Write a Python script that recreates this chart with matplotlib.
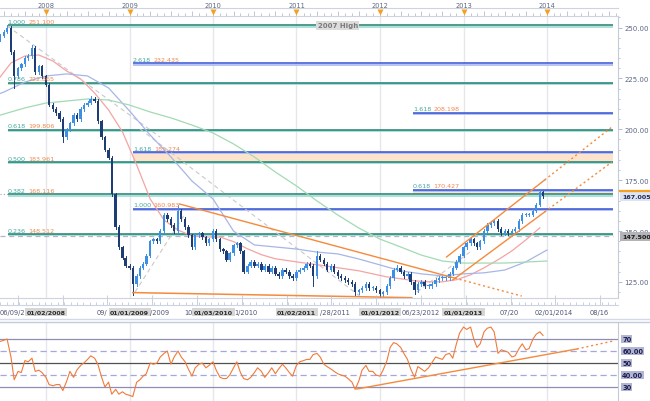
import pandas as pd
import matplotlib
matplotlib.use("Agg")
import matplotlib.pyplot as plt
import matplotlib.dates as mdates
import matplotlib.transforms as mtransforms
from matplotlib.lines import Line2D
from matplotlib.ticker import MultipleLocator

plt.rcParams["font.family"] = ["DejaVu Sans"]

W, H = 650, 402

# semi-monthly closes (1st / 15th), Jun 2007 - Dec 2013
close = [
    244, 246, 248, 250, 238, 226, 230, 232, 235, 236, 240, 228, 231, 226,
    222, 212, 210, 208, 205, 196, 200, 203, 207, 205, 210, 212, 213, 215, 214, 204, 196, 190, 186, 168, 152, 142, 137, 133,
    132, 124, 128, 132, 134, 138, 145, 146, 145, 150, 158, 156, 153, 150, 160, 156, 152, 148, 142, 148, 149, 147, 144, 146,
    150, 146, 141, 140, 136, 139, 143, 144, 140, 130, 133, 135, 133, 134, 131, 133, 130, 132, 129, 128, 131, 130, 128, 127,
    130, 131, 132, 134, 133, 128, 138, 136, 134, 131, 133, 130, 128, 127, 126, 125, 124, 120, 121, 122, 124, 122, 122, 121,
    119, 120, 123, 127, 131, 132, 130, 128, 129, 125, 121, 124, 125, 123, 123, 124, 126, 127, 127, 127, 129, 132, 135, 138,
    142, 144, 146, 144, 142, 145, 150, 153, 154, 155, 151, 149, 150, 149, 150, 151, 155, 158, 158, 158, 160, 163, 169, 167,
]
first_open = 242.0

# wick extremes that stand out
spike_dates = ["2007-07-15", "2007-08-15", "2007-11-01", "2008-03-15", "2008-07-15", "2009-01-15",
               "2009-08-01", "2011-03-15", "2011-04-01", "2011-09-15", "2012-01-01", "2012-03-15",
               "2012-06-01", "2013-12-01"]
spike_values = [251.1, 220.5, 241.5, 194.0, 216.5, 118.8, 163.0, 123.0, 140.0, 118.5, 117.5, 133.5, 119.0, 170.0]

# RSI, same semi-monthly dates
rsi = [
    68, 68, 69, 70, 55, 36, 43, 42, 52, 51, 54, 43, 44, 42,
    38, 32, 31, 32, 32, 27, 35, 43, 38, 44, 48, 50, 53, 56, 54, 49, 38, 30, 34, 24, 28, 24, 26, 24,
    23, 22, 34, 36, 39, 41, 50, 49, 50, 55, 58, 60, 49, 55, 60, 55, 51, 45, 39, 46, 49, 50, 46, 48,
    51, 44, 38, 37, 37, 40, 46, 51, 42, 37, 36, 38, 42, 46, 43, 38, 42, 46, 41, 45, 49, 46, 42, 39,
    48, 51, 52, 53, 53, 57, 58, 55, 49, 47, 45, 43, 41, 40, 39, 37, 34, 28, 35, 44, 48, 43, 43, 40,
    39, 44, 52, 63, 67, 66, 63, 58, 53, 45, 38, 47, 45, 43, 46, 50, 55, 54, 53, 57, 58, 54, 66, 75,
    80, 78, 80, 70, 63, 66, 76, 79, 80, 76, 58, 61, 60, 59, 55, 56, 62, 66, 61, 62, 70, 74, 76, 73,
]

# moving averages
red_ma = [223.7, 232.6, 236.0, 236.5, 233.5, 228.6, 224.7, 217.8, 209.5, 198.7, 182.5, 165.8, 155.4,
          150.5, 147.6, 147.1, 147.1, 144.8, 141.3, 138.4, 136.4, 135.4, 134.4, 133.5, 132.5, 131.5,
          130.5, 129.0, 127.5, 126.6, 125.6, 125.1, 125.1, 126.1, 128.5, 132.0, 135.9, 140.3, 145.7, 151.6]
blue_ma = [214.4, 218.3, 223.2, 226.2, 227.2, 226.2, 220.3, 209.0, 197.2, 186.4, 174.6, 165.8, 150.0, 143.2,
           142.2, 141.2, 139.7, 138.8, 136.3, 133.4, 130.5, 129.0, 128.0, 129.0, 129.5, 130.9, 134.9, 140.7]
green_ma = [204.6, 207.5, 210.5, 212.9, 213.9, 214.9, 214.4, 211.9, 208.5, 205.6, 202.1, 198.2, 192.8, 186.4,
            179.0, 172.2, 164.8, 157.9, 151.5, 146.1, 142.2, 138.2, 135.3, 134.3, 134.3, 134.3, 134.8, 135.3]

# Fibonacci retracement (from the 2007 high) and extensions
fib_ratios = ["1.000", "0.786", "0.618", "0.500", "0.382", "0.236"]
fib_levels = [251.100, 222.865, 199.806, 183.961, 168.116, 148.512]
ext1_ratios = ["2.618", "1.618", "1.000"]
ext1_levels = [232.435, 185.274, 160.983]
ext1_drawn = [232.435, 188.9, 160.983]   # where the lines sit on the picture
ext2_ratios = ["1.618", "0.618"]
ext2_levels = [208.198, 170.427]

current_price = 167.005
marker_level = 147.5

# trend lines
support_dates = ["2009-01-15", "2012-05-20"]
support_vals = [119.8, 117.3]
down_dates = ["2009-08-08", "2012-11-24", "2013-09-13"]
down_vals = [163.3, 126.9, 118.1]
chan_up_dates = ["2012-10-19", "2013-12-22", "2014-10-12"]
chan_up_vals = [137.3, 175.1, 201.1]
chan_lo_dates = ["2012-11-15", "2013-12-22", "2014-10-12"]
chan_lo_vals = [126.0, 159.4, 183.9]
gray_lines = [
    (["2007-07-17", "2009-05-14"], [250.7, 196.2]),
    (["2009-02-16", "2011-10-05"], [200.1, 118.1]),
    (["2009-01-25", "2009-08-31"], [120.1, 158.4]),
    (["2012-06-11", "2013-01-29"], [120.1, 139.7]),
]
rsi_tl_dates = ["2011-09-22", "2014-05-12", "2014-10-16"]
rsi_tl_vals = [28.3, 61.7, 68.3]

price_ticks = [125, 150, 175, 200, 225, 250]
rsi_levels = [70, 60, 50, 40, 30]
rsi_labels = ["70", "60.00", "50", "40.00", "30"]
year_labels = ["2008", "2009", "2010", "2011", "2012", "2013", "2014"]
box_dates = ["01/02/2008", "01/01/2009", "01/03/2010", "01/02/2011", "01/01/2012", "01/01/2013"]
plain_dates = ["06/09/2", "09/", "/2009", "10", "1/2010", "/28/2011", "06/23/2012", "07/20", "02/01/2014", "08/16"]
plain_px = [0, 97, 150, 184, 234, 320, 402, 500, 535, 590]

TEAL, TEAL_LT = "#1f7f72", "#a3ded6"
BLUE, BLUE_LT = "#3352d6", "#b0bdf0"
RATIO_C, PRICE_C = "#46a89c", "#f0884c"
ORANGE = "#f68a3c"
AXIS_TXT = "#5c6684"


def d(s):
    return mdates.date2num(pd.Timestamp(s))


def fbox(x0, y0, x1, y1):
    return [x0 / W, 1 - y1 / H, (x1 - x0) / W, (y1 - y0) / H]


fig = plt.figure(figsize=(W / 100, H / 100), dpi=100)
ax = fig.add_axes(fbox(0, 17, 618, 299))
ax_top = fig.add_axes(fbox(0, 9, 618, 17))
ax_bot = fig.add_axes(fbox(0, 299, 618, 306))
ax_rsi = fig.add_axes(fbox(0, 323, 618, 402))

xlim = (d("2007-06-14"), d("2014-11-08"))
line_end = d("2014-10-15")
for a in (ax, ax_top, ax_bot, ax_rsi):
    a.set_xlim(*xlim)
ax.set_ylim(117.14, 255.65)
ax_rsi.set_ylim(18.3, 84.2)

years = [d(f"{y}-01-01") for y in year_labels]
for yx in years:
    ax.axvline(yx, color="#e6e7ec", lw=1, zorder=0.5)
    ax_rsi.axvline(yx, color="#e6e7ec", lw=1, zorder=0.5)

# ---- levels ----
light_off = mtransforms.offset_copy(ax.transData, fig=fig, x=0, y=-1.3, units="dots")


def level_line(x0, level, dark, light):
    ax.plot([x0, line_end], [level, level], color=light, lw=1.3, transform=light_off,
            zorder=2, solid_capstyle="butt")
    ax.plot([x0, line_end], [level, level], color=dark, lw=1.1, zorder=2.1, solid_capstyle="butt")


def level_label(x0, level, ratio, price):
    t = ax.annotate(ratio, xy=(x0, level), xytext=(0, 0.9), textcoords="offset points",
                    fontsize=4.6, color=RATIO_C, ha="left", va="bottom", zorder=7)
    ax.annotate(price, xy=(1, 0), xycoords=t, xytext=(2, 0), textcoords="offset points",
                fontsize=4.6, color=PRICE_C, ha="left", va="bottom", zorder=7)


peak = d("2007-07-17")
low_start = d("2009-01-15")
ext2_start = d("2012-05-24")

ax.fill_between([low_start, line_end], fib_levels[3], ext1_drawn[1], color="#fde3cc", lw=0, zorder=1)
ax.fill_between([ext2_start, line_end], fib_levels[4], ext2_levels[1], color="#fde3cc", lw=0, zorder=1)

for r, lv in zip(fib_ratios, fib_levels):
    level_line(peak, lv, TEAL, TEAL_LT)
    level_label(peak, lv, r, f"{lv:.3f}")
for r, lv, yd in zip(ext1_ratios, ext1_levels, ext1_drawn):
    level_line(low_start, yd, BLUE, BLUE_LT)
    level_label(low_start, yd, r, f"{lv:.3f}")
for r, lv in zip(ext2_ratios, ext2_levels):
    level_line(ext2_start, lv, BLUE, BLUE_LT)
    level_label(ext2_start, lv, r, f"{lv:.3f}")

ax.plot([xlim[0], peak], [fib_levels[4]] * 2, color="#a0a0b0", lw=0.8, ls=(0, (1, 2)), zorder=2)
ax.plot([xlim[0], line_end], [marker_level] * 2, color="#b4b4c2", lw=0.9, ls=(0, (4, 3)), zorder=2)

ax.text(d("2011-07-01"), fib_levels[0], "2007 High", ha="center", va="center", fontsize=5,
        weight="bold", color="#7a7a7a", zorder=7,
        bbox=dict(boxstyle="square,pad=0.2", fc="#dcdcdc", ec="none"))

# ---- moving averages / gray guides ----
for xs_, ys_ in gray_lines:
    ax.plot([d(s) for s in xs_], ys_, color="#c9c9cc", lw=0.8, ls=(0, (4, 3)), zorder=2.5)

ax.plot(pd.date_range("2007-06-01", periods=len(red_ma), freq="2MS"), red_ma,
        color="#f4a4a4", lw=0.9, zorder=3)
ax.plot(pd.date_range("2007-04-01", periods=len(blue_ma), freq="QS"), blue_ma,
        color="#a7b6e6", lw=0.9, zorder=3)
ax.plot(pd.date_range("2007-04-01", periods=len(green_ma), freq="QS"), green_ma,
        color="#a3dab4", lw=0.9, zorder=3)

# ---- candles ----
dates = pd.date_range("2007-06-01", periods=len(close), freq="SMS")
xs = mdates.date2num(dates)
opens = [first_open] + close[:-1]
spikes = dict(zip([d(s) for s in spike_dates], spike_values))
for xi, o, c in zip(xs, opens, close):
    up = c >= o
    col = "#3d8fe6" if up else "#1f3d75"
    lo, hi = min(o, c) - 0.8, max(o, c) + 0.8
    if xi in spikes:
        if spikes[xi] > hi:
            hi = spikes[xi]
        else:
            lo = min(lo, spikes[xi])
    ax.plot([xi, xi], [lo, hi], color=col, lw=0.7, zorder=4)
    h = c - o if abs(c - o) > 0.5 else 0.5
    ax.bar(xi, h, bottom=o, width=11, color=col, lw=0, zorder=4.1)

# ---- orange trend lines ----
ax.plot([d(s) for s in support_dates], support_vals, color=ORANGE, lw=1.1, zorder=5)
for ds, vs in ((down_dates, down_vals), (chan_up_dates, chan_up_vals), (chan_lo_dates, chan_lo_vals)):
    px = [d(s) for s in ds]
    ax.plot(px[:2], vs[:2], color=ORANGE, lw=1.0, zorder=5)
    ax.plot(px[1:], vs[1:], color=ORANGE, lw=1.0, ls=(0, (1.5, 2)), zorder=5)

# ---- price axis ----
ax.yaxis.tick_right()
ax.set_yticks(price_ticks)
ax.set_yticklabels([f"{v:.2f}" for v in price_ticks])
ax.yaxis.set_minor_locator(MultipleLocator(5))
ax.tick_params(axis="y", which="major", direction="out", length=3, width=0.6, color="#aab2c4",
               labelsize=5, labelcolor=AXIS_TXT, pad=1.5)
ax.tick_params(axis="y", which="minor", direction="out", length=1.5, width=0.5, color="#aab2c4")
ax.tick_params(axis="x", bottom=False, labelbottom=False)
for s in ("top", "left", "bottom"):
    ax.spines[s].set_visible(False)
ax.spines["right"].set_color("#c4cad8")

ax.annotate(f"{marker_level:.3f}", xy=(1, marker_level), xycoords=("axes fraction", "data"),
            xytext=(3, 0), textcoords="offset points", ha="left", va="center", fontsize=4.6,
            weight="bold", color="#1a1a1a", zorder=10, annotation_clip=False,
            bbox=dict(boxstyle="square,pad=0.3", fc="#b4b4b8", ec="none"))
ax.annotate(f"{current_price:.3f}", xy=(1, current_price), xycoords=("axes fraction", "data"),
            xytext=(3, 0), textcoords="offset points", ha="left", va="center", fontsize=4.6,
            weight="bold", color="#1e2a5a", zorder=10, annotation_clip=False,
            bbox=dict(boxstyle="square,pad=0.3", fc="#dde4ef", ec="none"))
blend = mtransforms.blended_transform_factory(ax.transAxes, ax.transData)
ax.plot([1.003, 1.06], [current_price + 2.6] * 2, transform=blend, color="#f5a020", lw=1.6,
        clip_on=False, zorder=11)

# ---- top ruler ----
tb = mtransforms.blended_transform_factory(ax_top.transData, ax_top.transAxes)
ax_top.set_yticks([])
ax_top.xaxis.set_major_locator(mdates.MonthLocator(bymonth=[1, 4, 7, 10]))
ax_top.xaxis.set_minor_locator(mdates.MonthLocator())
ax_top.tick_params(axis="x", which="major", direction="in", length=3.5, width=0.5,
                   color="#a8b0c4", labelbottom=False)
ax_top.tick_params(axis="x", which="minor", direction="in", length=2, width=0.5, color="#a8b0c4")
for s in ("left", "right"):
    ax_top.spines[s].set_visible(False)
for s in ("top", "bottom"):
    ax_top.spines[s].set_color("#cdd3e0")
for yx, lab in zip(years, year_labels):
    ax_top.text(yx, 1.05, lab, transform=tb, ha="center", va="bottom", fontsize=4.8, color=AXIS_TXT)
ax_top.plot(years, [0.55] * len(years), "v", ms=4, color="#f5a020", mec="none",
            transform=tb, clip_on=False)

# ---- bottom ruler + date labels ----
bb = mtransforms.blended_transform_factory(ax_bot.transData, ax_bot.transAxes)
ax_bot.set_yticks([])
ax_bot.set_xticks(mdates.date2num(pd.date_range("2007-08-31", "2014-11-01", freq="196D")))
ax_bot.set_xticks(mdates.date2num(pd.date_range("2007-06-15", "2014-11-01", freq="28D")), minor=True)
ax_bot.tick_params(axis="x", which="major", direction="in", length=7, width=0.5,
                   color="#b4bccd", labelbottom=False)
ax_bot.tick_params(axis="x", which="minor", direction="in", length=2, width=0.5, color="#b4bccd")
for s in ("left", "right"):
    ax_bot.spines[s].set_visible(False)
for s in ("top", "bottom"):
    ax_bot.spines[s].set_color("#cdd3e0")

for lab, px in zip(plain_dates, plain_px):
    fig.text(px / W, 1 - 313 / H, lab, ha="left", va="center", fontsize=4.8, color="#4c5474")
for lab in box_dates:
    ax_bot.text(d(pd.to_datetime(lab, format="%m/%d/%Y")), -1.0, lab, transform=bb, ha="center",
                va="center", fontsize=4.5, weight="bold", color="#2a2a2a",
                bbox=dict(boxstyle="square,pad=0.25", fc="#d6d6d6", ec="none"))

fig.add_artist(Line2D([0, 1], [1 - 320 / H] * 2, color="#d3d9e6", lw=1))
fig.add_artist(Line2D([0, 1], [1 - 322.5 / H] * 2, color="#c2cade", lw=1))

# ---- RSI ----
ax_rsi.axhline(70, color="#8e8eb4", lw=0.9, zorder=2)
ax_rsi.axhline(30, color="#8e8eb4", lw=0.9, zorder=2)
ax_rsi.axhline(50, color="#505050", lw=0.9, zorder=2)
ax_rsi.axhline(60, color="#a4a8dc", lw=0.9, ls=(0, (5, 3)), zorder=2)
ax_rsi.axhline(40, color="#a4a8dc", lw=0.9, ls=(0, (5, 3)), zorder=2)
ax_rsi.plot(pd.date_range("2007-06-01", periods=len(rsi), freq="SMS"), rsi, color="#f07a3a",
            lw=0.8, zorder=4)
tl = [d(s) for s in rsi_tl_dates]
ax_rsi.plot(tl[:2], rsi_tl_vals[:2], color=ORANGE, lw=1.0, zorder=5)
ax_rsi.plot(tl[1:], rsi_tl_vals[1:], color=ORANGE, lw=1.0, ls=(0, (1.5, 2)), zorder=5)
ax_rsi.set_xticks([])
ax_rsi.set_yticks([])
for s in ("left", "bottom", "top"):
    ax_rsi.spines[s].set_visible(False)
ax_rsi.spines["right"].set_color("#c4cad8")
for lvl, lab in zip(rsi_levels, rsi_labels):
    ax_rsi.annotate(lab, xy=(1, lvl), xycoords=("axes fraction", "data"), xytext=(3, 0),
                    textcoords="offset points", ha="left", va="center", fontsize=4.8,
                    weight="bold", color="#1c1c50", annotation_clip=False,
                    bbox=dict(boxstyle="square,pad=0.15", fc="#b3b6d2", ec="none"))

fig.savefig("out.png", dpi=100, facecolor="white")
